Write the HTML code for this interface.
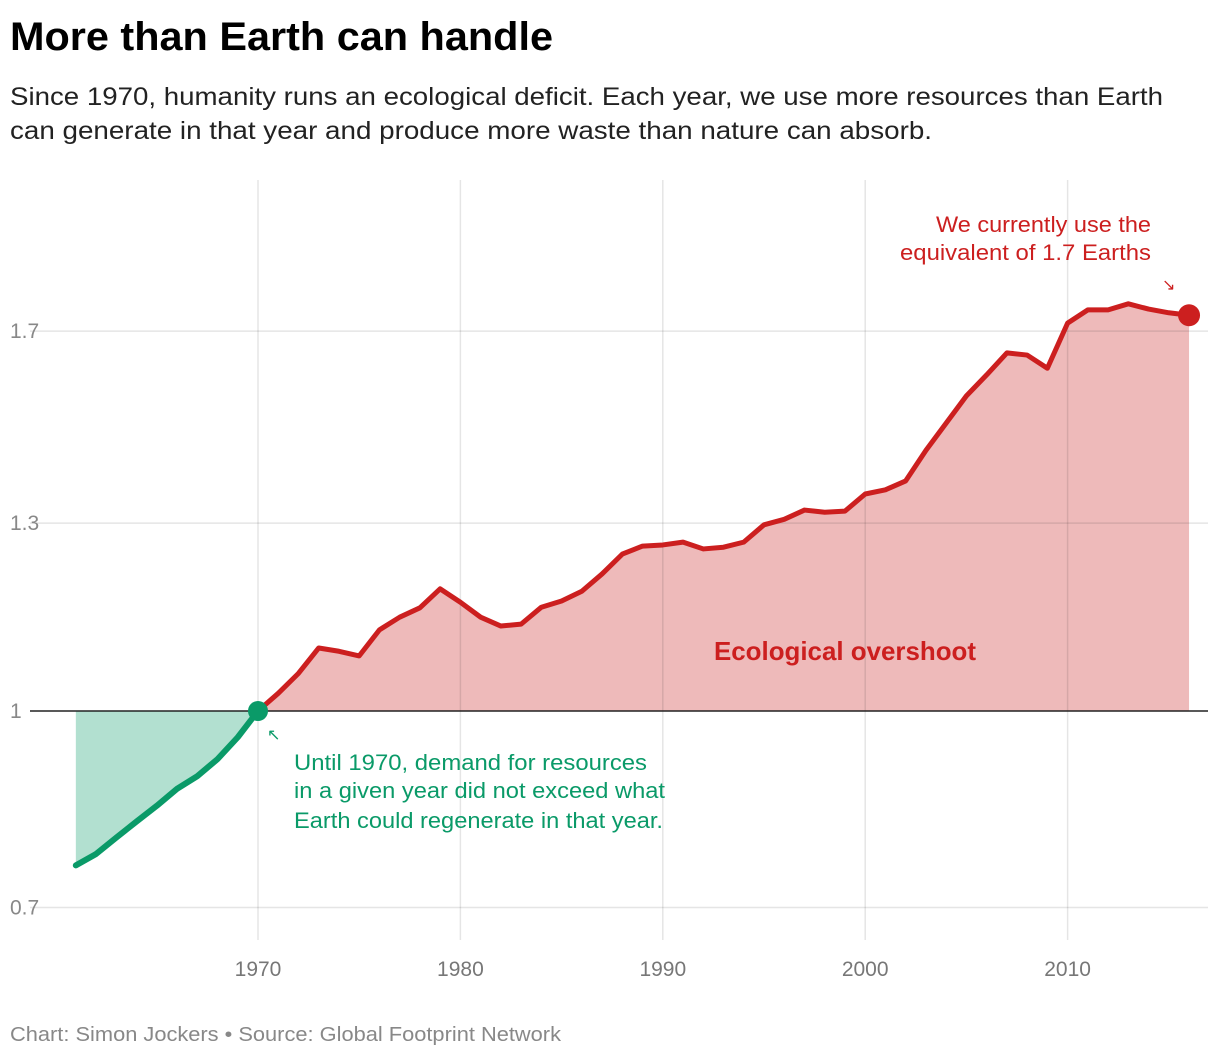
<!DOCTYPE html>
<html><head><meta charset="utf-8"><style>
body{margin:0;background:#fff;font-family:"Liberation Sans",sans-serif;}
</style></head><body>
<svg width="1220" height="1058" xmlns="http://www.w3.org/2000/svg" font-family="Liberation Sans, sans-serif">
<text x="10" y="50" font-size="40" font-weight="bold" fill="#000" textLength="543" lengthAdjust="spacingAndGlyphs">More than Earth can handle</text>
<text x="10" y="105" font-size="25" fill="#222" textLength="1153" lengthAdjust="spacingAndGlyphs">Since 1970, humanity runs an ecological deficit. Each year, we use more resources than Earth</text>
<text x="10" y="139" font-size="25" fill="#222" textLength="922" lengthAdjust="spacingAndGlyphs">can generate in that year and produce more waste than nature can absorb.</text>
<g id="areas"></g>
<g id="grid"></g>
<g id="lines"></g>
<text x="714" y="660" font-size="26" font-weight="bold" fill="#cc1f1f" textLength="262" lengthAdjust="spacingAndGlyphs">Ecological overshoot</text>
<g fill="#cc1f1f" font-size="22">
<text x="936" y="232" textLength="215" lengthAdjust="spacingAndGlyphs">We currently use the</text>
<text x="900" y="260" textLength="251" lengthAdjust="spacingAndGlyphs">equivalent of 1.7 Earths</text>
<text x="1162" y="290" font-size="16">↘</text>
</g>
<g fill="#0a9a68" font-size="22">
<text x="267" y="740" font-size="16">↖</text>
<text x="294" y="770" textLength="353" lengthAdjust="spacingAndGlyphs">Until 1970, demand for resources</text>
<text x="294" y="798" textLength="371" lengthAdjust="spacingAndGlyphs">in a given year did not exceed what</text>
<text x="294" y="828" textLength="369" lengthAdjust="spacingAndGlyphs">Earth could regenerate in that year.</text>
</g>
<text x="10" y="1041" font-size="20" fill="#888" textLength="551" lengthAdjust="spacingAndGlyphs">Chart: Simon Jockers • Source: Global Footprint Network</text>
</svg>
<script>
const years=[];for(let y=1961;y<=2016;y++)years.push(y);
const values=[0.806,0.819,0.838,0.857,0.876,0.897,0.913,0.935,0.964,1.0,1.025,1.054,1.092,1.087,1.080,1.120,1.140,1.155,1.186,1.164,1.140,1.126,1.129,1.156,1.166,1.182,1.211,1.245,1.259,1.261,1.266,1.254,1.257,1.266,1.297,1.307,1.324,1.320,1.322,1.354,1.362,1.379,1.439,1.495,1.553,1.599,1.649,1.644,1.614,1.719,1.751,1.751,1.766,1.753,1.744,1.738];
const yTicks=[0.76,1,1.3,1.7];
const yTickLabels=["0.7","1","1.3","1.7"];
const xTicks=[1970,1980,1990,2000,2010];
const NS="http://www.w3.org/2000/svg";
const X=v=>258+(v-1970)*20.24;
const Y=v=>711-716*Math.log(v);
function mk(tag,attrs,parent){const e=document.createElementNS(NS,tag);for(const k in attrs)e.setAttribute(k,attrs[k]);document.getElementById(parent).appendChild(e);return e;}
xTicks.forEach(t=>{
 const l=mk('line',{x1:X(t),x2:X(t),y1:180,y2:940,stroke:'#000','stroke-opacity':0.1,'stroke-width':1.5},'grid');
 
 
 const tx=mk('text',{x:X(t),y:976,'font-size':21,fill:'#777','text-anchor':'middle'},'grid');tx.textContent=t;
 
 
});
yTicks.forEach((t,i)=>{
 if(t!==1){const l=mk('line',{x1:30,x2:1208,y1:Y(t),y2:Y(t),stroke:'#000','stroke-opacity':0.1,'stroke-width':1.5},'grid');
 
 }
 const tx=mk('text',{x:10,y:Y(t)+7,'font-size':21,fill:'#888'},'grid');tx.textContent=yTickLabels[i];
 
 
});
const i70=years.indexOf(1970);
const pre=years.slice(0,i70+1).map((y,i)=>[X(y),Y(values[i])]);
const post=years.slice(i70).map((y,i)=>[X(y),Y(values[i+i70])]);
const b=Y(1);
const pts=a=>a.map(p=>p.join(',')).join(' ');
const ga=mk('polygon',{points:pts(pre)+` ${pre[pre.length-1][0]},${b} ${pre[0][0]},${b}`,fill:'#b2e0d0'},'areas');


const ra=mk('polygon',{points:pts(post)+` ${post[post.length-1][0]},${b} ${post[0][0]},${b}`,fill:'#eebaba'},'areas');


const base=mk('line',{x1:30,x2:1208,y1:b,y2:b,stroke:'#222','stroke-width':1.5},'lines');


const gl=mk('polyline',{points:pts(pre),fill:'none',stroke:'#0a9a68','stroke-width':6,'stroke-linejoin':'round','stroke-linecap':'round'},'lines');


const rl=mk('polyline',{points:pts(post),fill:'none',stroke:'#cc1f1f','stroke-width':5,'stroke-linejoin':'round'},'lines');


const gd=mk('circle',{cx:X(1970),cy:Y(values[i70]),r:10,fill:'#0a9a68'},'lines');


const last=values.length-1;
const rd=mk('circle',{cx:X(years[last]),cy:Y(values[last]),r:11,fill:'#cc1f1f'},'lines');


</script>
</body></html>
